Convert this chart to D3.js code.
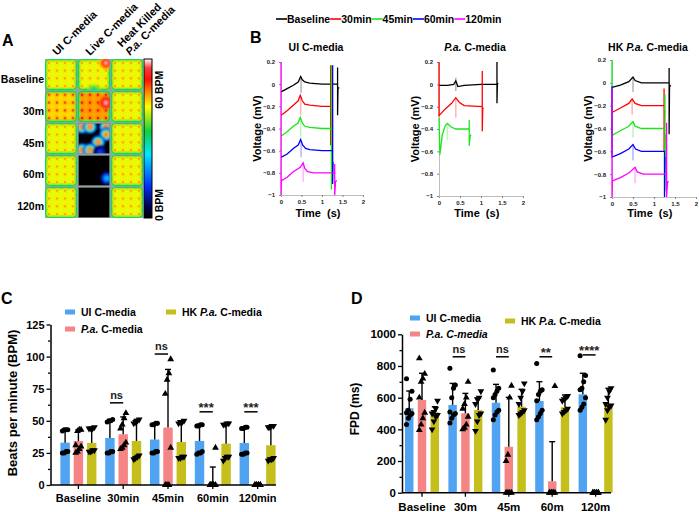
<!DOCTYPE html>
<html>
<head>
<meta charset="utf-8">
<script src="https://cdn.jsdelivr.net/npm/d3@7"></script>
<style>
  body { margin: 0; background: #fff; }
  svg { display: block; font-family: "Liberation Sans", Arial, sans-serif; }
  text { font-weight: bold; white-space: pre; }
</style>
</head>
<body>
<svg id="fig" width="699" height="512"></svg>
<script>
// ---------------- panel A : MEA beat-rate maps
var heatRows = ["Baseline", "30m", "45m", "60m", "120m"];
var heatCols = [["UI C-media"], ["Live C-media"], ["Heat Killed", "P.a. C-media"]];
var cellBpm = [[48, 48, 48], [51, 54, 48], [48, 0, 48], [48, 0, 48], [48, 0, 48]];
var dotBpm = [[54, 54, 54], [59, 61, 54], [54, 0, 54], [54, 0, 54], [54, 0, 54]];
// [row, col, electrode row, electrode col, bpm]
var hotSpots = [
  [0, 1, 0, 3, 69], [0, 1, 3.7, 1.5, 30],
  [1, 1, 1, 3, 69],
  [2, 1, 0, 0, 68], [2, 1, 0, 1, 68], [2, 1, 0, 3, 68], [2, 1, 1, 3, 64],
  [2, 1, 2, 2, 68], [2, 1, 3, 0, 68], [2, 1, 3, 1, 68], [2, 1, 3.3, 2.3, 16],
  [3, 1, 2.5, 3.1, 26]
];

// ---------------- panel B : field potential traces
var bSeries = ["Baseline", "30min", "45min", "60min", "120min"];
var bColors = ["#000000", "#ff0000", "#19e619", "#0000ff", "#ff00ff"];
var uiTraces = [
  [[0, -0.07], [0.15, -0.04], [0.3, -0.01], [0.42, 0.02], [0.48, 0.07], [0.52, 0.04], [0.58, 0.02], [0.7, 0.01], [1.0, 0], [1.38, 0], [1.38, 0.15], [1.38, -0.28], [1.39, -0.04], [1.42, -0.03]],
  [[0, -0.28], [0.15, -0.24], [0.3, -0.19], [0.42, -0.15], [0.47, -0.1], [0.52, -0.15], [0.58, -0.18], [0.7, -0.19], [1.0, -0.2], [1.21, -0.2], [1.21, 0.17], [1.21, -0.55], [1.22, -0.22]],
  [[0, -0.47], [0.15, -0.43], [0.3, -0.38], [0.42, -0.35], [0.47, -0.3], [0.52, -0.35], [0.58, -0.38], [0.7, -0.39], [1.0, -0.4], [1.23, -0.4], [1.23, 0.17], [1.23, -0.95], [1.24, -0.42]],
  [[0, -0.66], [0.15, -0.63], [0.3, -0.58], [0.42, -0.55], [0.48, -0.5], [0.53, -0.55], [0.6, -0.58], [0.7, -0.59], [1.0, -0.6], [1.26, -0.6], [1.26, 0.17], [1.26, -0.9], [1.27, -0.7]],
  [[0, 0.2], [0, -1], [0.01, -0.87], [0.15, -0.84], [0.3, -0.79], [0.47, -0.75], [0.54, -0.71], [0.58, -0.76], [0.65, -0.79], [0.8, -0.8], [1.31, -0.8], [1.31, -0.72], [1.31, -1], [1.33, -0.88], [1.36, -0.87]]
];
var uiPeaks = [[0.49, 0.05, -0.08], [0.48, -0.12, -0.28], [0.48, -0.32, -0.48], [0.49, -0.52, -0.66], [0.54, -0.73, -0.88]];
var paTraces = [
  [[0, -0.01], [0.2, -0.01], [0.35, 0], [0.4, 0.03], [0.45, -0.02], [0.6, -0.01], [1.0, 0], [1.38, 0], [1.38, 0.2], [1.38, -0.17], [1.39, 0], [1.41, 0.01]],
  [[0, 0.2], [0, -0.28], [0.15, -0.22], [0.3, -0.17], [0.4, -0.12], [0.48, -0.16], [0.6, -0.19], [1.03, -0.2], [1.03, 0.12], [1.03, -0.42], [1.04, -0.22], [1.06, -0.21]],
  [[0, -0.3], [0.02, -0.63], [0.08, -0.45], [0.15, -0.37], [0.2, -0.35], [0.28, -0.38], [0.4, -0.4], [0.72, -0.4], [0.72, -0.32], [0.72, -0.55], [0.74, -0.47], [0.76, -0.45]]
];
var paPeaks = [[0.4, 0.06, -0.06], [0.4, -0.12, -0.3], [0.2, -0.36, -0.5]];
var hkTraces = [
  [[0, -0.04], [0.2, -0.02], [0.4, 0.01], [0.5, 0.05], [0.55, 0.02], [0.7, 0], [1.36, 0], [1.36, 0.13], [1.36, -0.45], [1.37, -0.02], [1.4, -0.03]],
  [[0, -0.26], [0.2, -0.22], [0.4, -0.18], [0.48, -0.14], [0.55, -0.18], [0.7, -0.2], [1.24, -0.2], [1.24, -0.05], [1.24, -0.6], [1.25, -0.25], [1.27, -0.25]],
  [[0, 0.2], [0, -0.46], [0.2, -0.42], [0.4, -0.38], [0.5, -0.34], [0.55, -0.38], [0.7, -0.4], [1.26, -0.4], [1.26, -0.1], [1.26, -0.95], [1.27, -0.45]],
  [[0, -0.03], [0, -0.65], [0.2, -0.62], [0.4, -0.58], [0.5, -0.54], [0.56, -0.58], [0.7, -0.6], [1.25, -0.6], [1.25, -1], [1.26, -0.65]],
  [[0, -0.05], [0, -1], [0.01, -0.86], [0.2, -0.83], [0.4, -0.79], [0.55, -0.74], [0.6, -0.78], [0.75, -0.8], [1.3, -0.8], [1.3, -0.35], [1.3, -1], [1.32, -0.88], [1.34, -0.86]]
];
var hkPeaks = [[0.5, 0.04, -0.08], [0.48, -0.14, -0.28], [0.5, -0.34, -0.48], [0.5, -0.54, -0.68], [0.55, -0.74, -0.88]];
var voltTicks = [0.2, 0, -0.2, -0.4, -0.6, -0.8, -1];
var timeTicks = [0, 0.5, 1, 1.5, 2];

// ---------------- panels C and D : grouped bars
var seriesNames = [[["UI C-media", 0]], [["P.a.", 1], [" C-media", 0]], [["HK ", 0], ["P.a.", 1], [" C-media", 0]]];
var barColors = ["#4fa3f0", "#f58484", "#c4bf1c"];

var cGroups = ["Baseline", "30min", "45min", "60min", "120min"];
var cMeanUI = [33, 36.6, 35.4, 34.3, 32.7];
var cMeanPA = [34.3, 39.5, 44.7, 1.6, 0];
var cMeanHK = [32.7, 34.3, 33.5, 32.2, 31];
var cErrUI = [10, 14.4, 12.4, 13, 12.3];
var cErrPA = [8.7, 13.5, 45.3, 12.4, 0];
var cErrHK = [12, 16.7, 16.5, 15.8, 14.7];
var cPtsUI = [[25, 25, 26, 26, 42, 43, 43, 43], [25, 25, 26, 26, 49, 50, 50, 51], [25, 25, 26, 26, 47, 47, 48, 48], [24, 25, 25, 26, 46, 46, 47, 47], [24, 24, 25, 25, 44, 44, 45, 45]];
var cPtsPA = [[25, 26, 28, 30, 31, 42, 43, 43], [28, 29, 31, 33, 44, 47, 52, 56], [0, 0, 0, 29, 71, 82, 87, 98], [0, 0, 0, 0, 0, 0, 0, 29], [0, 0, 0, 0, 0, 0, 0, 0]];
var cPtsHK = [[26, 26, 27, 27, 44, 44, 44, 45], [20, 21, 22, 23, 48, 49, 50, 51], [21, 21, 22, 22, 48, 49, 49, 50], [19, 21, 22, 22, 47, 47, 48, 48], [19, 20, 20, 21, 45, 45, 46, 46]];
var cSig = ["", "ns", "ns", "***", "***"];
var cSigLevel = [0, 64, 102, 57, 57];
var cTicks = [0, 25, 50, 75, 100, 125];

var dGroups = ["Baseline", "30m", "45m", "60m", "120m"];
var dMeanUI = [533, 554, 568, 579, 621];
var dMeanPA = [585, 501, 290, 72, 0];
var dMeanHK = [508, 522, 543, 539, 554];
var dErrUI = [109, 136, 116, 122, 133];
var dErrPA = [169, 126, 312, 250, 0];
var dErrHK = [35, 74, 110, 78, 105];
var dPtsUI = [[430, 470, 490, 500, 505, 520, 590, 640, 720], [440, 470, 490, 500, 510, 600, 660, 680, 785], [460, 490, 510, 520, 600, 620, 640, 660, 775], [460, 480, 500, 520, 580, 620, 640, 650, 815], [520, 540, 560, 600, 650, 660, 700, 740, 865]];
var dPtsPA = [[395, 430, 470, 505, 600, 700, 720, 750, 848], [400, 410, 430, 480, 530, 560, 600, 700], [0, 0, 0, 0, 200, 240, 600, 675], [0, 0, 0, 0, 0, 0, 0, 673], [0, 0, 0, 0, 0, 0, 0, 0]];
var dPtsHK = [[400, 450, 480, 490, 500, 510, 530, 580], [390, 450, 490, 500, 560, 590, 600, 640], [490, 500, 510, 520, 560, 600, 640, 690], [500, 510, 520, 530, 580, 590, 600, 610], [460, 520, 540, 550, 560, 600, 640, 660]];
var dSig = ["", "ns", "ns", "**", "****"];
var dSigLevel = [0, 858, 858, 858, 870];
var dTicks = [0, 200, 400, 600, 800, 1000];

var svg = d3.select("#fig");
var defs = svg.append("defs");
defs.append("filter").attr("id", "soft").attr("x", "-50%").attr("y", "-50%").attr("width", "200%").attr("height", "200%")
  .append("feGaussianBlur").attr("stdDeviation", 0.8);

function richText(sel, parts) {
  parts.forEach(function (p) {
    sel.append("tspan").attr("font-style", p[1] ? "italic" : null).text(p[0]);
  });
  return sel;
}

// panel letters
[["A", 2, 46], ["B", 250, 43], ["C", 1, 304], ["D", 351, 304]].forEach(function (l) {
  svg.append("text").attr("x", l[1]).attr("y", l[2]).attr("font-size", 16).text(l[0]);
});

// ================= A
var heatColor = d3.scaleLinear()
  .domain([0, 5, 14, 28, 38, 49, 55, 61, 66, 70])
  .range(["#000000", "#000050", "#0030ff", "#00e8ff", "#10d040", "#ffff00", "#ff9000", "#ff1000", "#ff3a3a", "#ffffff"])
  .clamp(true);

var gA = svg.append("g");
var hx = d3.scaleBand().domain(d3.range(heatCols.length)).range([45, 143]).paddingInner(0.03);
var hy = d3.scaleBand().domain(d3.range(heatRows.length)).range([59, 218]).paddingInner(0.03);
gA.append("rect").attr("x", 45).attr("y", 59).attr("width", 98).attr("height", 159).attr("fill", "#8aa6a4");

heatRows.forEach(function (rowName, i) {
  heatCols.forEach(function (colName, j) {
    var x = hx(j), y = hy(i), w = hx.bandwidth(), h = hy.bandwidth();
    var bpm = cellBpm[i][j], dot = dotBpm[i][j];
    var ex = d3.scaleLinear().domain([-0.5, 3.5]).range([x, x + w]);
    var ey = d3.scaleLinear().domain([-0.5, 3.5]).range([y, y + h]);
    var id = "clip" + i + "_" + j;
    defs.append("clipPath").attr("id", id).append("rect")
      .attr("x", x).attr("y", y).attr("width", w).attr("height", h).attr("rx", bpm > 0 ? 4 : 0);
    var g = gA.append("g").attr("clip-path", "url(#" + id + ")");
    g.append("rect").attr("x", x).attr("y", y).attr("width", w).attr("height", h).attr("fill", heatColor(bpm));
    if (bpm > 0) {
      g.append("rect").attr("x", x).attr("y", y).attr("width", w).attr("height", h).attr("rx", 4)
        .attr("fill", "none").attr("stroke", heatColor(36)).attr("stroke-width", 3.2);
      g.append("rect").attr("x", x + 2).attr("y", y + 2).attr("width", w - 4).attr("height", h - 4).attr("rx", 3)
        .attr("fill", "none").attr("stroke", heatColor(44)).attr("stroke-width", 1.3).attr("opacity", 0.9);
    }
    if (dot > 0) {
      var el = d3.cross(d3.range(4), d3.range(4));
      g.selectAll(".halo").data(el).join("circle").attr("class", "halo")
        .attr("cx", function (d) { return ex(d[1]); }).attr("cy", function (d) { return ey(d[0]); })
        .attr("r", 2.1).attr("fill", heatColor((bpm + dot) / 2)).attr("filter", "url(#soft)");
      g.selectAll(".dot").data(el).join("circle").attr("class", "dot")
        .attr("cx", function (d) { return ex(d[1]); }).attr("cy", function (d) { return ey(d[0]); })
        .attr("r", 1.1).attr("fill", heatColor(dot));
    }
    hotSpots.filter(function (s) { return s[0] === i && s[1] === j; }).forEach(function (s) {
      var rings = [[7, 0.2], [5.6, 0.4], [4.2, 0.6], [3, 0.8], [1.9, 0.93], [0.9, 1.05]];
      var sg = g.append("g").attr("filter", "url(#soft)");
      rings.forEach(function (r) {
        sg.append("circle").attr("cx", ex(s[3])).attr("cy", ey(s[2])).attr("r", r[0])
          .attr("fill", heatColor(bpm + (s[4] - bpm) * r[1]));
      });
    });
    if (bpm === 0) {
      g.append("rect").attr("x", x).attr("y", y).attr("width", w).attr("height", h)
        .attr("fill", "none").attr("stroke", "#8a8a8a").attr("stroke-width", 1.5);
    }
  });
  gA.append("text").attr("x", 44).attr("y", hy(i) + hy.bandwidth() / 2 + 8)
    .attr("text-anchor", "end").attr("font-size", 10.5).text(rowName);
});

heatCols.forEach(function (lines, j) {
  var ax = hx(j) + hx.bandwidth() / 2 + (lines.length > 1 ? 3 : -4);
  var t = gA.append("text").attr("transform", "translate(" + ax + ",56) rotate(-45)").attr("font-size", 11);
  lines.forEach(function (ln, k) {
    var ts = t.append("tspan").attr("x", 0).attr("dy", k === 0 ? -(lines.length - 1) * 1.05 + "em" : "1.05em");
    if (ln.indexOf("P.a.") === 0) {
      ts.append("tspan").attr("font-style", "italic").text("P.a.");
      ts.append("tspan").text(ln.slice(4));
    } else {
      ts.text(ln);
    }
  });
});

// colour bar
var cb = d3.scaleLinear().domain([0, 70]).range([218, 59]);
var grad = defs.append("linearGradient").attr("id", "cbar").attr("x1", 0).attr("x2", 0).attr("y1", 1).attr("y2", 0);
heatColor.domain().forEach(function (v) {
  grad.append("stop").attr("offset", v / 70).attr("stop-color", heatColor(v));
});
gA.append("rect").attr("x", 144).attr("y", cb(70)).attr("width", 8).attr("height", cb(0) - cb(70))
  .attr("fill", "url(#cbar)").attr("stroke", "#000").attr("stroke-width", 1);
[["60 BPM", 60], ["0 BPM", 0]].forEach(function (l) {
  var yy = l[1] > 0 ? cb(l[1]) + 8 : cb(l[1]) - 13;
  gA.append("text").attr("transform", "translate(163," + yy + ") rotate(-90)")
    .attr("text-anchor", "middle").attr("font-size", 10.5).text(l[0]);
});

// ================= B
var gB = svg.append("g");
var lx = 276;
bSeries.forEach(function (name, k) {
  gB.append("line").attr("x1", lx).attr("x2", lx + 11).attr("y1", 19).attr("y2", 19)
    .attr("stroke", bColors[k]).attr("stroke-width", 1.6);
  var t = gB.append("text").attr("x", lx + 11).attr("y", 23).attr("font-size", 10.5)
    .attr("font-family", "'Liberation Sans Narrow', 'Liberation Sans', Arial").text(name);
  lx += 11 + t.node().getComputedTextLength();
});

function traceBox(xr, yr, title, traces, peaks) {
  var g = gB.append("g");
  var x = d3.scaleLinear().domain([0, 2]).range(xr);
  var y = d3.scaleLinear().domain([-1, 0.2]).range(yr);
  var ax = g.append("g").attr("transform", "translate(0," + yr[0] + ")")
    .call(d3.axisBottom(x).tickValues(timeTicks).tickSize(2).tickPadding(3).tickFormat(d3.format("")));
  var ay = g.append("g").attr("transform", "translate(" + xr[0] + ",0)")
    .call(d3.axisLeft(y).tickValues(voltTicks).tickSize(2).tickPadding(4).tickFormat(function (d) { return d3.format("")(+d.toFixed(1)); }));
  [ax, ay].forEach(function (a) {
    a.select(".domain").attr("stroke", "#bdbdbd").attr("stroke-width", 1);
    a.selectAll(".tick line").attr("stroke", "#888");
    a.selectAll(".tick text").attr("font-size", 6).attr("fill", "#222").attr("font-family", "Liberation Sans, Arial");
  });
  var line = d3.line().x(function (d) { return x(d[0]); }).y(function (d) { return y(d[1]); });
  peaks.forEach(function (p, k) {
    g.append("line").attr("x1", x(p[0])).attr("x2", x(p[0])).attr("y1", y(p[1])).attr("y2", y(p[2]))
      .attr("stroke", bColors[k]).attr("stroke-width", 1.6).attr("opacity", 0.28);
  });
  traces.forEach(function (tr, k) {
    g.append("path").attr("d", line(tr)).attr("fill", "none").attr("stroke", bColors[k]).attr("stroke-width", 1.3);
  });
  richText(g.append("text").attr("x", (xr[0] + xr[1]) / 2 - 6).attr("y", 51).attr("text-anchor", "middle").attr("font-size", 10.5), title);
  g.append("text").attr("x", x(0.9)).attr("y", 217).attr("text-anchor", "middle").attr("font-size", 11).text("Time  (s)");
  g.append("text").attr("transform", "translate(" + (xr[0] - 20) + "," + ((yr[0] + yr[1]) / 2) + ") rotate(-90)")
    .attr("text-anchor", "middle").attr("font-size", 11).text("Voltage (mV)");
}
traceBox([281, 363], [195, 62], [["UI C-media", 0]], uiTraces, uiPeaks);
traceBox([439, 523], [196, 62], [["P.a.", 1], [" C-media", 0]], paTraces, paPeaks);
traceBox([612, 696], [197, 60], [["HK ", 0], ["P.a.", 1], [" C-media", 0]], hkTraces, hkPeaks);

// ================= C and D
function barChart(o) {
  var g = svg.append("g");
  var x0 = d3.scaleBand().domain(o.groups).range(o.xRange);
  var x1 = d3.scaleBand().domain([0, 1, 2]).range([-o.half, o.half]).paddingInner(o.pad);
  var y = d3.scaleLinear().domain([0, o.ticks[o.ticks.length - 1]]).range(o.yRange);
  var cx = function (gi, k) { return x0(o.groups[gi]) + x0.bandwidth() / 2 + x1(k) + x1.bandwidth() / 2; };
  var series = [[o.means[0], o.errs[0], o.pts[0]], [o.means[1], o.errs[1], o.pts[1]], [o.means[2], o.errs[2], o.pts[2]]];

  series.forEach(function (s, k) {
    g.append("g").selectAll("rect").data(s[0]).join("rect")
      .attr("x", function (d, i) { return cx(i, k) - x1.bandwidth() / 2; })
      .attr("y", function (d) { return y(d); })
      .attr("width", x1.bandwidth())
      .attr("height", function (d) { return y(0) - y(d); })
      .attr("fill", barColors[k]);
  });
  series.forEach(function (s, k) {
    var eg = g.append("g").attr("stroke", "#000").attr("stroke-width", 1.4);
    s[0].forEach(function (m, i) {
      if (s[1][i] <= 0) return;
      eg.append("line").attr("x1", cx(i, k)).attr("x2", cx(i, k)).attr("y1", y(m)).attr("y2", y(m + s[1][i]));
      eg.append("line").attr("x1", cx(i, k) - 3).attr("x2", cx(i, k) + 3).attr("y1", y(m + s[1][i])).attr("y2", y(m + s[1][i]));
    });
  });
  var syms = [d3.symbol().type(d3.symbolCircle).size(20), d3.symbol().type(d3.symbolTriangle).size(20), d3.symbol().type(d3.symbolTriangle).size(20)];
  series.forEach(function (s, k) {
    var pg = g.append("g");
    s[2].forEach(function (vals, i) {
      vals.forEach(function (v, n) {
        var off = ((n % 4) - 1.5) * 1.8;
        pg.append("path").attr("d", syms[k]())
          .attr("transform", "translate(" + (cx(i, k) + off) + "," + y(v) + ")" + (k === 2 ? " rotate(180)" : ""))
          .attr("fill", "#000");
      });
    });
  });

  var yAxis = g.append("g").attr("transform", "translate(" + o.axisX + ",0)")
    .call(d3.axisLeft(y).tickValues(o.ticks).tickSize(4).tickPadding(2).tickSizeOuter(0).tickFormat(d3.format("d")));
  g.append("g").attr("transform", "translate(" + o.axisX + ",0)")
    .call(d3.axisLeft(y).tickValues(o.minor).tickSize(2.5).tickFormat("").tickSizeOuter(0))
    .select(".domain").remove();
  var xAxis = g.append("g").attr("transform", "translate(0," + y(0) + ")")
    .call(d3.axisBottom(x0).tickSize(4).tickPadding(o.xPad).tickSizeOuter(0));
  xAxis.select(".domain").attr("d", "M" + o.axisX + ",0H" + o.axisEnd);
  [xAxis, yAxis].forEach(function (a) {
    a.selectAll("path,line").attr("stroke", "#000").attr("stroke-width", 1.5);
    a.selectAll("text").attr("font-size", o.font).attr("fill", "#000").attr("font-family", "Liberation Sans, Arial");
  });
  g.selectAll("g.tick line").attr("stroke-width", 1.3);

  o.sig.forEach(function (s, i) {
    if (!s) return;
    var yy = y(o.sigLevel[i]);
    g.append("line").attr("x1", cx(i, 0)).attr("x2", cx(i, 1)).attr("y1", yy).attr("y2", yy)
      .attr("stroke", "#000").attr("stroke-width", 1.5);
    g.append("text").attr("x", (cx(i, 0) + cx(i, 1)) / 2).attr("y", yy - (s === "ns" ? 4 : 0))
      .attr("text-anchor", "middle").attr("font-weight", s === "ns" ? "normal" : "bold")
      .attr("font-size", s === "ns" ? 11 : 13).attr("fill", "#222").text(s);
  });

  g.append("text").attr("transform", "translate(" + o.label[1] + "," + o.label[2] + ") rotate(-90)")
    .attr("text-anchor", "middle").attr("font-size", o.label[3]).text(o.label[0]);

  o.legend.forEach(function (L, k) {
    g.append("rect").attr("x", L[0]).attr("y", L[1] - 2.5).attr("width", 10).attr("height", 5).attr("fill", barColors[k]);
    var parts = seriesNames[k].map(function (p) { return [p[0], p[1] || (k === 1 && o.italicPA)]; });
    richText(g.append("text").attr("x", L[0] + 16).attr("y", L[1] + 3.8).attr("font-size", 10.5), parts);
  });
}

barChart({
  groups: cGroups, xRange: [56, 280], half: 18, pad: 0.29, yRange: [485, 324.5],
  ticks: cTicks, minor: d3.range(12.5, 125, 25), means: [cMeanUI, cMeanPA, cMeanHK],
  errs: [cErrUI, cErrPA, cErrHK], pts: [cPtsUI, cPtsPA, cPtsHK], axisX: 50.5, axisEnd: 276,
  xPad: 5, font: 11, sig: cSig, sigLevel: cSigLevel,
  label: ["Beats per minute (BPM)", 17, 403, 13],
  legend: [[65, 312], [65, 329], [166, 312]], italicPA: false
});
barChart({
  groups: dGroups, xRange: [400.3, 617.3], half: 17, pad: 0.34, yRange: [492.7, 334.3],
  ticks: dTicks, minor: d3.range(100, 1000, 200), means: [dMeanUI, dMeanPA, dMeanHK],
  errs: [dErrUI, dErrPA, dErrHK], pts: [dPtsUI, dPtsPA, dPtsHK], axisX: 402, axisEnd: 611,
  xPad: 6, font: 11.5, sig: dSig, sigLevel: dSigLevel,
  label: ["FPD (ms)", 359, 409, 12],
  legend: [[410, 318], [410, 334], [505, 321]], italicPA: true
});
</script>
</body>
</html>
